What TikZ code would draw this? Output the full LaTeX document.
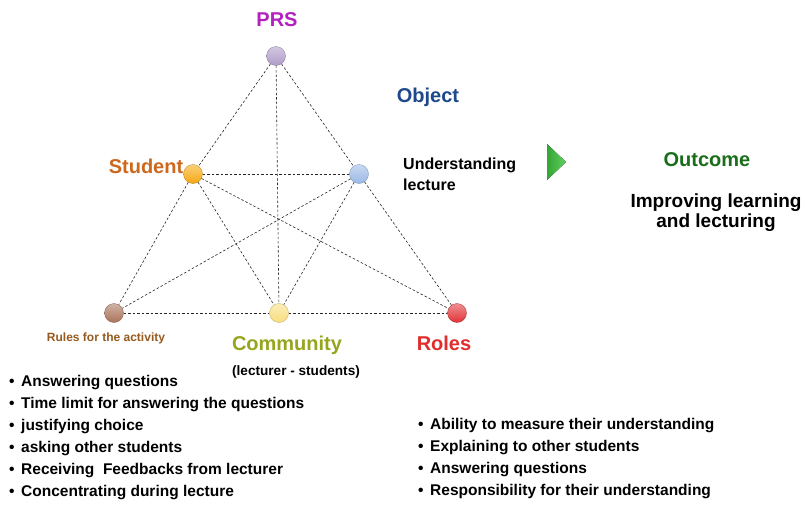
\documentclass[tikz,border=0pt]{standalone}
\usepackage{fontspec}
\setmainfont{Liberation Sans}
\definecolor{prscol}{RGB}{178,34,190}
\definecolor{objcol}{RGB}{30,72,140}
\definecolor{stucol}{RGB}{205,105,30}
\definecolor{rulecol}{RGB}{150,90,30}
\definecolor{comcol}{RGB}{150,165,30}
\definecolor{rolecol}{RGB}{225,45,45}
\definecolor{outcol}{RGB}{25,110,25}
\definecolor{arrowcol}{RGB}{60,195,60}
\definecolor{prsdot}{RGB}{175,155,200}
\definecolor{studot}{RGB}{245,168,15}
\definecolor{objdot}{RGB}{155,185,230}
\definecolor{ruldot}{RGB}{170,115,90}
\definecolor{comdot}{RGB}{248,222,125}
\definecolor{roldot}{RGB}{225,50,55}
\tikzset{
  dot/.style={circle,minimum size=19pt,inner sep=0pt,draw=#1!75!black,
              line width=0.3pt,top color=#1!55!white,bottom color=#1},
  link/.style={black!85,line width=0.6pt,dash pattern=on 2.5pt off 2pt},
  head/.style={font=\fontsize{20}{22}\selectfont\bfseries,inner sep=0pt},
  item/.style={font=\fontsize{15.5}{18}\selectfont\bfseries,anchor=base west,inner sep=0pt}
}
\newcommand\bul{\makebox[12pt][l]{\textbullet}}
\begin{document}
\begin{tikzpicture}[x=1pt,y=-1pt]
  \useasboundingbox[fill=white] (0,0) rectangle (805,506);
  % the six corners
  \node[dot=prsdot] (prs) at (276,56) {};
  \node[dot=studot] (stu) at (193,174) {};
  \node[dot=objdot] (obj) at (359,174) {};
  \node[dot=ruldot] (rul) at (114,313) {};
  \node[dot=comdot] (com) at (279,313) {};
  \node[dot=roldot] (rol) at (457,313) {};
  % dashed links
  \foreach \a/\b in {prs/stu,prs/obj,prs/com,stu/obj,stu/rul,stu/com,stu/rol,
                     obj/rul,obj/com,obj/rol,rul/com,com/rol}
    \draw[link] (\a) -- (\b);
  % labels
  \node[head,text=prscol] (prslab) at (277,20) {PRS};
  \node[head,text=objcol] (objlab) at (428,97) {Object};
  \node[head,text=stucol] (stulab) at (146,166) {Student};
  \node[head,text=comcol] (comlab) at (287,345) {Community};
  \node[head,text=rolecol] (rollab) at (444,343) {Roles};
  \node[font=\fontsize{12}{14}\selectfont\bfseries,text=rulecol,inner sep=0pt]
    (rullab) at (106,338) {Rules for the activity};
  \node[font=\fontsize{13.6}{16}\selectfont\bfseries,inner sep=0pt]
    (comsub) at (296,372) {(lecturer - students)};
  \node[font=\fontsize{16}{21}\selectfont\bfseries,align=left,anchor=west,inner sep=0pt]
    (objsub) at (403,174) {Understanding\\lecture};
  % outcome
  \fill[left color=arrowcol!85!black,right color=arrowcol!80!white]
    (547,144) -- (566,162) -- (547,180) -- cycle;
  \node[head,text=outcol] (outlab) at (707,160) {Outcome};
  \node[font=\fontsize{19}{20}\selectfont\bfseries,align=center,inner sep=0pt]
    (outsub) at (716,213) {Improving learning\\and lecturing};
  % rules list
  \foreach \t [count=\i] in {Answering questions,
      Time limit for answering the questions,justifying choice,
      asking other students,Receiving\ \ Feedbacks from lecturer,
      Concentrating during lecture}
    \node[item] (rule\i) at (9,{386+22*(\i-1)}) {\bul\t};
  % roles list
  \foreach \t [count=\i] in {Ability to measure their understanding,
      Explaining to other students,Answering questions,
      Responsibility for their understanding}
    \node[item] (role\i) at (418,{429+22*(\i-1)}) {\bul\t};
\end{tikzpicture}
\end{document}
